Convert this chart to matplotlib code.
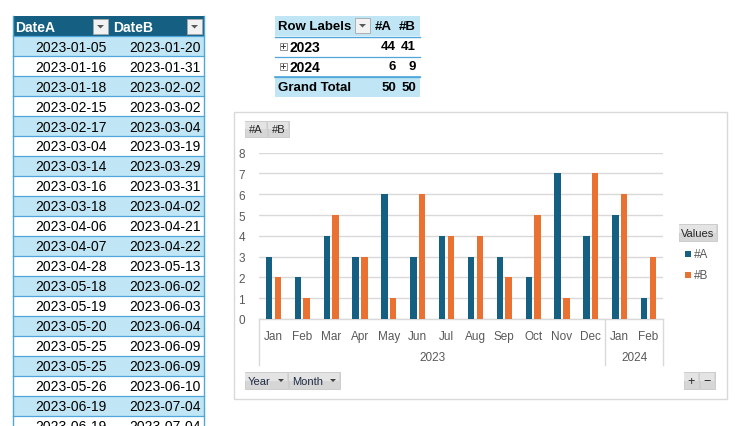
import matplotlib
matplotlib.use("Agg")
import matplotlib.pyplot as plt
import matplotlib.transforms as mtransforms
from matplotlib.patches import Rectangle, Polygon
import numpy as np

plt.rcParams['font.family'] = ['Liberation Sans', 'DejaVu Sans']

# ---------------- data ----------------
date_a = ["2023-01-05", "2023-01-16", "2023-01-18", "2023-02-15", "2023-02-17",
          "2023-03-04", "2023-03-14", "2023-03-16", "2023-03-18", "2023-04-06",
          "2023-04-07", "2023-04-28", "2023-05-18", "2023-05-19", "2023-05-20",
          "2023-05-25", "2023-05-25", "2023-05-26", "2023-06-19", "2023-06-19"]
date_b = ["2023-01-20", "2023-01-31", "2023-02-02", "2023-03-02", "2023-03-04",
          "2023-03-19", "2023-03-29", "2023-03-31", "2023-04-02", "2023-04-21",
          "2023-04-22", "2023-05-13", "2023-06-02", "2023-06-03", "2023-06-04",
          "2023-06-09", "2023-06-09", "2023-06-10", "2023-07-04", "2023-07-04"]

pivot_rows = ["2023", "2024"]
pivot_a = [44, 6]
pivot_b = [41, 9]

months = ["Jan", "Feb", "Mar", "Apr", "May", "Jun", "Jul", "Aug", "Sep", "Oct",
          "Nov", "Dec", "Jan", "Feb"]
years = ["2023"] * 12 + ["2024"] * 2
count_a = [3, 2, 4, 3, 6, 3, 4, 3, 3, 2, 7, 4, 5, 1]
count_b = [2, 1, 5, 3, 1, 6, 4, 4, 2, 5, 1, 7, 6, 3]

# ---------------- style ----------------
W, H = 737, 427
HEAD = '#156082'
LIGHT = '#C0E6F5'
LINE = '#4EA6DA'
COL_A = '#156082'
COL_B = '#E97132'
GRID = '#D9D9D9'
TXT = '#595959'
CFS = 8.5   # chart font size

fig = plt.figure(figsize=(W / 100, H / 100), dpi=100)
fig.patch.set_facecolor('white')
bg = fig.add_axes([0, 0, 1, 1])
bg.set_xlim(0, W)
bg.set_ylim(H, 0)
bg.axis('off')


def rect(x0, y0, x1, y1, fc, ec='none', lw=0.8, z=1):
    bg.add_patch(Rectangle((x0, y0), x1 - x0, y1 - y0, facecolor=fc,
                           edgecolor=ec, linewidth=lw, zorder=z))


def dropdown(x0, y0, x1, y1, z=3):
    rect(x0, y0, x1, y1, '#F2F2F2', '#A6A6A6', 0.6, z)
    cx, cy = (x0 + x1) / 2, (y0 + y1) / 2
    bg.add_patch(Polygon([[cx - 3.5, cy - 1.5], [cx + 3.5, cy - 1.5], [cx, cy + 2]],
                         closed=True, facecolor='#595959', edgecolor='none', zorder=z + 1))


# ---------------- left table ----------------
tx0, tmid, tx1 = 13, 110, 204
top = 17
rh = 20
rect(tx0, top, tx1, top + rh, HEAD, z=2)
bg.text(15, top + rh / 2 + 0.5, "DateA", color='white', fontweight='bold',
        fontsize=10, va='center', ha='left', zorder=4)
bg.text(113, top + rh / 2 + 0.5, "DateB", color='white', fontweight='bold',
        fontsize=10, va='center', ha='left', zorder=4)
dropdown(93, 20, 108, 35)
dropdown(187, 20, 202, 35)
for i, (da, db) in enumerate(zip(date_a, date_b)):
    y0 = top + rh * (i + 1)
    fc = LIGHT if i % 2 == 0 else 'white'
    rect(tx0, y0, tx1, y0 + rh, fc, z=1)
    bg.plot([tx0, tx1], [y0, y0], color=LINE, lw=0.9, zorder=2)
    bg.text(107, y0 + rh / 2 + 0.5, da, fontsize=10, va='center', ha='right',
            color='black', zorder=3)
    bg.text(201, y0 + rh / 2 + 0.5, db, fontsize=10, va='center', ha='right',
            color='black', zorder=3)
bg.plot([tx0, tx0], [top, H], color=LINE, lw=1.0, zorder=2)
bg.plot([tx1, tx1], [top, H], color=LINE, lw=1.0, zorder=2)

# ---------------- pivot table ----------------
PFS = 9.5
px0, px1 = 275, 420
rect(px0, 17, px1, 37, LIGHT, z=1)
bg.text(278, 27.5, "Row Labels", fontweight='bold', fontsize=PFS, va='center',
        ha='left', zorder=3)
dropdown(355, 19, 370, 34)
bg.text(392, 27.5, "#A", fontweight='bold', fontsize=PFS, va='center', ha='right', zorder=3)
bg.text(416, 27.5, "#B", fontweight='bold', fontsize=PFS, va='center', ha='right', zorder=3)
bg.plot([px0, px1], [37.5, 37.5], color=LINE, lw=1.0, zorder=2)
for i, (lab, a, b) in enumerate(zip(pivot_rows, pivot_a, pivot_b)):
    yc = 47.5 + 20 * i
    rect(280, yc - 4, 287, yc + 3, 'white', '#808080', 0.6, z=3)
    bg.plot([281.5, 285.5], [yc - 0.5, yc - 0.5], color='#404040', lw=0.7, zorder=4)
    bg.plot([283.5, 283.5], [yc - 2.5, yc + 1.5], color='#404040', lw=0.7, zorder=4)
    bg.text(290, yc, lab, fontweight='bold', fontsize=PFS + 0.5, va='center', ha='left', zorder=3)
    bg.text(396, yc, str(a), fontweight='bold', fontsize=PFS, va='center', ha='right', zorder=3)
    bg.text(416, yc, str(b), fontweight='bold', fontsize=PFS, va='center', ha='right', zorder=3)
    bg.plot([px0, px1], [57.5 + 20 * i, 57.5 + 20 * i], color=LINE, lw=0.9, zorder=2)
rect(px0, 78, px1, 98, LIGHT, z=1)
bg.plot([px0, px1], [78, 78], color=LINE, lw=1.2, zorder=2)
bg.text(278, 88, "Grand Total", fontweight='bold', fontsize=PFS, va='center', ha='left', zorder=3)
bg.text(396, 88, str(sum(pivot_a)), fontweight='bold', fontsize=PFS, va='center', ha='right', zorder=3)
bg.text(416, 88, str(sum(pivot_b)), fontweight='bold', fontsize=PFS, va='center', ha='right', zorder=3)

# ---------------- chart frame ----------------
rect(234, 112.5, 727, 399.5, 'white', GRID, 1.0, z=1)


def button(x0, y0, x1, y1, label, arrow=False, fs=8):
    rect(x0, y0, x1, y1, '#D6D6D6', '#C8C8C8', 0.6, z=3)
    rect(x0 + 0.5, y0 + 0.5, x1 - 0.5, (y0 + y1) / 2, '#E4E4E4', z=3)
    if arrow:
        bg.text(x0 + 3, (y0 + y1) / 2 + 0.5, label, fontsize=fs, va='center',
                ha='left', color='#1F2A44', zorder=5)
        cx, cy = x1 - 7, (y0 + y1) / 2
        bg.add_patch(Polygon([[cx - 3, cy - 1.5], [cx + 3, cy - 1.5], [cx, cy + 1.5]],
                             closed=True, facecolor='#404040', edgecolor='none', zorder=5))
    else:
        bg.text((x0 + x1) / 2, (y0 + y1) / 2 + 0.5, label, fontsize=fs, va='center',
                ha='center', color='#262626', zorder=5)


button(245, 122, 267, 138, "#A")
button(268, 122, 289, 138, "#B")
button(245, 373, 288, 390, "Year", arrow=True)
button(289, 373, 340, 390, "Month", arrow=True)
button(684, 373, 699, 390, "+", fs=9)
button(700, 373, 715, 390, "\u2212", fs=9)
button(679, 225, 717, 242, "Values", fs=8)

# legend
rect(685, 252, 691, 258, COL_A, z=4)
bg.text(694, 255, "#A", fontsize=CFS, va='center', ha='left', color=TXT, zorder=4)
rect(685, 273, 691, 279, COL_B, z=4)
bg.text(694, 276, "#B", fontsize=CFS, va='center', ha='left', color=TXT, zorder=4)

# ---------------- bar chart ----------------
L, R, T, B = 259, 663, 153.7, 320
ax = fig.add_axes([L / W, 1 - B / H, (R - L) / W, (B - T) / H])
ax.set_facecolor('none')
x = np.arange(len(months))
bw = 0.22
ax.bar(x - 0.15, count_a, width=bw, color=COL_A, zorder=3)
ax.bar(x + 0.15, count_b, width=bw, color=COL_B, zorder=3)
ax.set_xlim(-0.5, len(months) - 0.5)
ax.set_ylim(0, 8)
ax.set_yticks(range(0, 9))
ax.yaxis.grid(True, color=GRID, lw=1.0, zorder=0)
ax.set_axisbelow(True)
for s in ['top', 'right', 'left']:
    ax.spines[s].set_visible(False)
ax.spines['bottom'].set_color(GRID)
ax.spines['bottom'].set_linewidth(1.0)
ax.tick_params(axis='y', length=0, pad=10, labelsize=CFS, labelcolor=TXT)
ax.set_xticks(x)
ax.set_xticklabels(months)
ax.tick_params(axis='x', length=0, pad=8, labelsize=CFS, labelcolor=TXT)

# second level of category axis
trans = mtransforms.blended_transform_factory(ax.transData, bg.transData)
uniq = []
for yv in years:
    if yv not in uniq:
        uniq.append(yv)
bounds = [-0.5]
for yv in uniq:
    idx = [i for i, v in enumerate(years) if v == yv]
    ax.text(np.mean(idx), 358, yv, transform=trans, fontsize=CFS, color=TXT,
            ha='center', va='center', clip_on=False)
    bounds.append(idx[-1] + 0.5)
for bx in bounds:
    ax.plot([bx, bx], [320, 366], transform=trans, color=GRID, lw=1.0, clip_on=False)

fig.savefig("out.png", dpi=100)
